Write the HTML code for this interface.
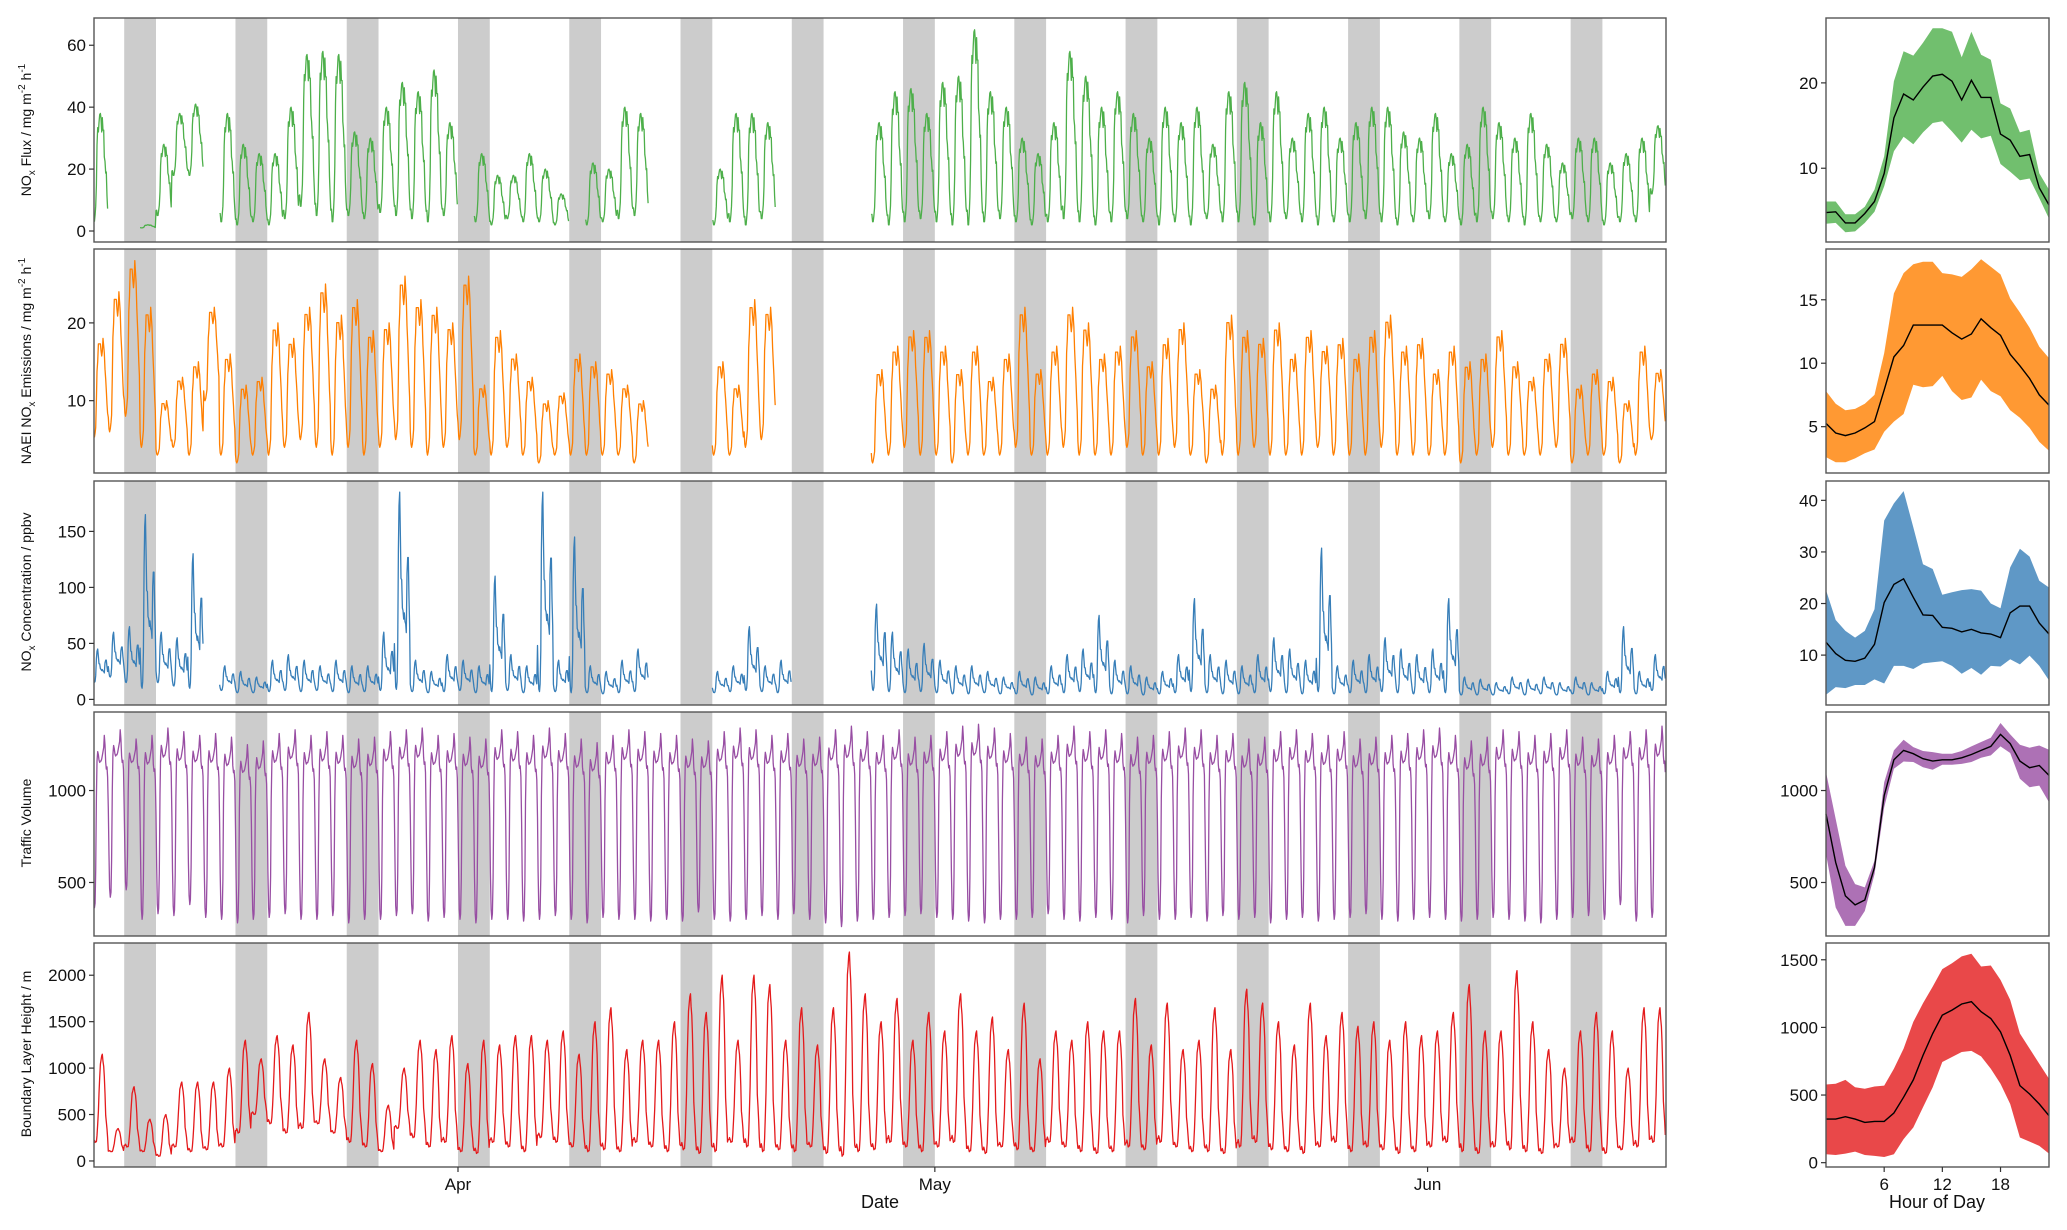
<!DOCTYPE html>
<html><head><meta charset="utf-8"><style>
html,body{margin:0;padding:0;background:#fff}
svg{display:block;font-family:"Liberation Sans",Arial,sans-serif}
</style></head><body>
<svg id="fig" width="2067" height="1230" viewBox="0 0 2067 1230" xmlns="http://www.w3.org/2000/svg">
<rect width="2067" height="1230" fill="#fff"/>
<g id="bands"></g>
<g id="series"></g>
<g id="frames"></g>
<g id="axes" font-size="17" fill="#111"></g>
<g font-size="14" fill="#111" text-anchor="middle">
<text transform="translate(31,130) rotate(-90)">NO<tspan font-size="10" dy="4">x</tspan><tspan dy="-4"> Flux / mg m</tspan><tspan font-size="10" dy="-6">-2</tspan><tspan dy="6"> h</tspan><tspan font-size="10" dy="-6">-1</tspan></text>
<text transform="translate(31,361) rotate(-90)">NAEI NO<tspan font-size="10" dy="4">x</tspan><tspan dy="-4"> Emissions / mg m</tspan><tspan font-size="10" dy="-6">-2</tspan><tspan dy="6"> h</tspan><tspan font-size="10" dy="-6">-1</tspan></text>
<text transform="translate(31,592) rotate(-90)">NO<tspan font-size="10" dy="4">x</tspan><tspan dy="-4"> Concentration / ppbv</tspan></text>
<text transform="translate(31,823) rotate(-90)">Traffic Volume</text>
<text transform="translate(31,1054) rotate(-90)">Boundary Layer Height / m</text>
</g>
<text x="880" y="1208" font-size="18" text-anchor="middle" fill="#111">Date</text>
<text x="1937" y="1208" font-size="18" text-anchor="middle" fill="#111">Hour of Day</text>
</svg>
<script>
// ---- data ----
const monthLabels = ["Apr","May","Jun"];
const monthDays = [22.9, 52.9, 83.9];
const hourTicks = [6,12,18];
const fluxMax = [38,null,null,2,28,38,41,null,38,28,25,25,40,57,58,57,32,30,40,48,45,52,35,null,25,18,18,25,20,12,null,22,20,40,38,null,null,null,null,20,38,38,35,null,null,null,null,null,null,35,45,46,38,48,50,65,45,40,30,25,35,58,50,40,45,38,30,40,35,40,28,45,48,35,45,30,38,40,30,35,40,40,32,30,38,25,28,40,35,30,38,28,22,30,30,22,25,30,34];
const fluxMin = [3,2,2,1,5,18,18,5,3,2,3,2,4,8,5,3,5,4,6,5,4,3,5,3,3,2,4,3,3,2,3,2,3,4,5,3,3,3,3,2,3,2,4,3,3,3,3,3,3,3,2,3,4,3,2,2,3,4,3,2,3,4,3,2,3,4,3,2,3,2,4,3,3,2,3,4,3,2,3,3,4,3,2,3,4,3,2,3,4,3,2,3,3,4,3,2,3,3,12];
const emisMax = [18,24,28,22,10,13,15,22,16,12,13,20,18,22,25,21,23,19,20,26,23,22,20,26,12,19,16,13,10,11,16,15,14,12,10,null,null,null,null,15,12,23,22,null,null,null,null,null,null,14,17,19,19,17,14,17,13,16,22,14,17,22,20,16,17,19,15,18,20,14,12,21,19,18,20,16,19,17,18,16,19,21,17,18,14,17,15,16,19,15,13,16,18,12,14,13,10,17,14];
const emisMin = [5,6,8,4,3,4,3,10,3,2,3,3,4,5,4,3,4,3,4,5,4,3,4,5,3,3,4,3,2,3,3,3,3,3,2,3,3,3,3,3,3,4,5,3,3,3,3,3,3,2,3,4,3,3,2,3,3,3,4,3,3,4,3,3,3,4,3,3,4,3,2,3,3,4,3,3,3,4,3,3,3,4,3,3,3,3,2,3,4,3,3,3,4,2,3,3,2,3,5];
const concMax = [45,60,65,165,60,55,130,null,30,25,20,35,40,35,30,35,30,30,60,185,35,25,40,35,30,110,40,30,185,35,145,30,25,35,45,null,null,null,null,25,30,65,30,35,null,null,null,null,null,85,60,45,50,35,30,30,25,20,25,20,30,40,45,75,35,30,20,25,40,90,40,35,30,40,55,45,35,135,30,35,40,55,45,40,45,90,20,18,15,20,18,20,15,20,15,25,65,25,40];
const concMin = [15,20,15,10,15,12,10,8,8,6,6,7,8,7,8,7,6,7,8,9,7,6,7,8,6,7,8,6,7,7,6,6,5,6,7,6,6,6,6,6,7,8,7,6,6,6,6,6,6,8,7,6,7,6,5,5,6,5,5,4,5,6,7,6,5,5,4,5,6,7,6,5,5,6,7,6,5,7,5,6,6,7,6,5,6,6,4,4,4,5,4,5,4,5,4,5,6,5,8];
const trafMax = [1300,1330,1280,1300,1340,1320,1300,1310,1290,1250,1270,1310,1330,1300,1320,1300,1280,1290,1320,1330,1340,1300,1310,1290,1280,1330,1320,1300,1340,1310,1280,1260,1300,1330,1320,1310,1300,1280,1270,1320,1340,1330,1300,1310,1280,1290,1330,1350,1320,1300,1330,1290,1300,1320,1350,1360,1340,1310,1290,1280,1300,1350,1320,1330,1310,1290,1300,1320,1340,1330,1300,1310,1280,1290,1320,1330,1310,1300,1320,1280,1290,1300,1310,1330,1340,1300,1270,1290,1330,1320,1300,1310,1330,1290,1280,1300,1320,1330,1350];
const trafMin = [360,420,460,300,330,320,380,310,300,280,300,310,330,300,300,320,280,300,300,320,330,290,310,300,280,300,300,290,300,320,300,280,310,300,300,290,300,290,340,300,290,300,320,300,330,300,280,260,290,300,310,320,330,310,300,290,280,300,300,310,330,300,290,310,300,280,320,300,300,310,290,320,300,310,280,300,310,290,300,310,330,300,290,300,310,300,290,300,310,300,290,280,300,310,320,300,380,290,310];
const blhMax = [1150,350,800,450,500,850,850,850,1000,1300,1100,1350,1250,1600,1100,900,1300,1050,600,1000,1300,1200,1350,1050,1300,1250,1350,1350,1300,1400,1150,1500,1650,1200,1300,1300,1500,1800,1600,2000,1300,2000,1900,1300,1650,1250,1650,2250,1800,1500,1750,1300,1600,1400,1800,1400,1550,1200,1700,1100,1400,1300,1500,1400,1400,1750,1250,1700,1200,1300,1650,1200,1850,1700,1500,1250,1700,1350,1600,1450,1500,1300,1500,1350,1400,1600,1900,1400,1400,2050,1500,1200,1000,1400,1600,1400,1000,1650,1650];
const blhMin = [200,100,150,100,50,150,100,120,150,300,500,400,300,350,400,300,200,150,100,350,250,150,200,100,80,200,150,100,250,200,150,100,120,100,200,150,100,120,80,100,200,150,100,120,100,150,80,50,100,120,200,150,100,150,200,100,80,150,120,100,200,150,100,80,100,150,120,200,150,100,100,80,150,200,120,100,80,150,200,100,150,120,80,100,150,200,100,80,150,120,100,80,150,200,100,80,120,150,200];
// hourly climatology (hour 0..23): mean, lower, upper
const fluxMean=[4.8,4.9,3.6,3.6,4.7,6.1,9.4,15.9,18.7,18.0,19.5,20.8,21.0,20.2,18.0,20.3,18.3,18.3,14.0,13.3,11.4,11.6,7.7,5.7];
const fluxLo=[3.5,3.6,2.5,2.6,3.6,4.9,7.9,12.0,13.7,12.8,14.2,15.3,15.5,14.3,13.0,14.5,13.5,13.8,10.5,9.6,8.6,8.8,6.5,4.1];
const fluxHi=[6.1,6.1,4.6,4.6,5.5,7.5,11.4,20.2,23.7,23.2,24.7,26.4,26.4,26.0,23.0,26.0,23.3,22.7,17.6,17.0,14.2,14.5,9.4,7.5];
const emisMean=[5.26,4.5,4.3,4.5,4.9,5.4,7.9,10.5,11.4,13.0,13.0,13.0,13.0,12.4,11.9,12.3,13.5,12.8,12.2,10.7,9.8,8.8,7.5,6.7];
const emisLo=[2.6,2.2,2.2,2.5,2.9,3.2,4.6,5.4,6.0,8.3,8.1,8.2,9.0,7.8,7.1,7.3,8.7,7.8,7.4,6.3,5.7,4.9,3.8,3.1];
const emisHi=[7.8,6.8,6.3,6.4,6.8,7.5,10.8,15.5,17.1,17.8,18.0,18.0,17.1,17.0,16.8,17.4,18.2,17.6,17.0,15.1,14.0,12.8,11.3,10.4];
const concMean=[12.5,10.3,9.0,8.8,9.4,12.1,20.2,23.7,24.8,21.2,17.8,17.7,15.4,15.2,14.5,15.0,14.3,14.1,13.4,18.2,19.5,19.5,16.2,14.1];
const concLo=[2.3,3.8,3.6,4.2,4.2,5.3,4.5,7.9,7.9,7.3,8.4,8.6,8.8,7.9,6.4,7.5,6.2,7.9,7.8,9.2,8.2,9.9,7.9,5.1];
const concHi=[22.6,16.8,14.7,13.4,14.7,18.9,36.1,39.4,41.8,34.8,27.6,26.7,21.7,22.2,22.6,22.8,22.5,20.0,19.1,27.0,30.6,29.1,24.4,23.1];
const trafMean=[873,609,427,378,405,582,973,1167,1218,1200,1173,1160,1167,1167,1178,1196,1218,1240,1305,1255,1160,1124,1136,1082];
const trafLo=[655,364,264,264,345,545,909,1118,1158,1155,1127,1113,1140,1140,1145,1155,1178,1191,1240,1204,1064,1018,1027,936];
const trafHi=[1100,845,591,491,473,618,1045,1218,1276,1236,1215,1209,1200,1200,1215,1240,1264,1287,1367,1305,1249,1233,1245,1222];
const blhMean=[322,322,340,322,298,305,305,367,484,612,793,955,1091,1128,1173,1190,1116,1066,967,793,570,508,434,347];
const blhLo=[62,57,67,82,57,50,42,62,174,260,409,558,744,781,818,826,786,694,583,434,186,156,124,67];
const blhHi=[578,583,612,558,546,563,570,694,843,1041,1178,1302,1431,1475,1525,1545,1450,1458,1351,1203,955,843,731,620];
const leftTicks=[[0,20,40,60],[10,20],[0,50,100,150],[500,1000],[0,500,1000,1500,2000]];
const rightTicks=[[10,20],[5,10,15],[10,20,30,40],[500,1000],[0,500,1000,1500]];

// ---- layout ----
const NS="http://www.w3.org/2000/svg";
const tops=[18,249,481,712,943], PH=224;
const L0=94,L1=1666,R0=1826,R1=2049, DAYS=98.9;
const leftDom=[[-3.55,68.8],[0.7,29.5],[-5,195],[209,1427],[-65,2347]];
const rightDom=[[1.36,27.6],[1.35,19],[0.33,43.75],[209,1427],[-32,1624]];
const colors=["#4daf4a","#ff7f00","#377eb8","#984ea3","#e41a1c"];
const names=["flux","emissions","concentration","traffic","boundary-layer"];
const maxes=[fluxMax,emisMax,concMax,trafMax,blhMax], mins=[fluxMin,emisMin,concMin,trafMin,blhMin];
const means=[fluxMean,emisMean,concMean,trafMean,blhMean], los=[fluxLo,emisLo,concLo,trafLo,blhLo], his=[fluxHi,emisHi,concHi,trafHi,blhHi];
const xDay=t=>L0+(L1-L0)*t/DAYS;
const xHour=h=>R0+(R1-R0)*h/23;
const yV=(p,v,dom)=>tops[p]+PH-(v-dom[0])/(dom[1]-dom[0])*PH;
function mk(tag,attrs,parent){const e=document.createElementNS(NS,tag);for(const k in attrs)e.setAttribute(k,attrs[k]);parent.appendChild(e);return e;}
const bands=document.getElementById('bands'), series=document.getElementById('series'), frames=document.getElementById('frames'), axes=document.getElementById('axes');

for(let p=0;p<5;p++){
  // weekend bands
  for(let k=0;k<14;k++){
    const t0=1.9+7*k, t1=Math.min(t0+2,DAYS);
    const r=mk('rect',{x:xDay(t0),y:tops[p],width:xDay(t1)-xDay(t0),height:PH,fill:'#cccccc'},bands);
    
    
  }
  // time series
  const mx=maxes[p], mn=mins[p], prof=means[p];
  const pmin=Math.min(...prof), pmax=Math.max(...prof);
  let d='', pen=false;
  for(let i=0;i<mx.length;i++){
    if(mx[i]==null){pen=false;continue;}
    for(let h=0;h<24;h++){
      const t=i-0.1+h/24; if(t<0||t>DAYS) continue;
      const v=mn[i]+(mx[i]-mn[i])*(prof[h]-pmin)/(pmax-pmin);
      d+=(pen?'L':'M')+xDay(t).toFixed(1)+','+yV(p,v,leftDom[p]).toFixed(1);
      pen=true;
    }
  }
  const line=mk('path',{d:d,fill:'none',stroke:colors[p],'stroke-width':1.3,'stroke-linejoin':'round'},series);
  
  
  // ribbon + mean
  const lo=los[p], hi=his[p], me=means[p];
  let rd='';
  for(let h=0;h<24;h++) rd+=(h?'L':'M')+xHour(h).toFixed(1)+','+yV(p,hi[h],rightDom[p]).toFixed(1);
  for(let h=23;h>=0;h--) rd+='L'+xHour(h).toFixed(1)+','+yV(p,lo[h],rightDom[p]).toFixed(1);
  const rib=mk('path',{d:rd+'Z',fill:colors[p],'fill-opacity':0.8},series);
  
  
  let md='';
  for(let h=0;h<24;h++) md+=(h?'L':'M')+xHour(h).toFixed(1)+','+yV(p,me[h],rightDom[p]).toFixed(1);
  const ml=mk('path',{d:md,fill:'none',stroke:'#000','stroke-width':1.4},series);
  
  
  // frames
  const f1=mk('rect',{x:L0,y:tops[p],width:L1-L0,height:PH,fill:'none',stroke:'#555','stroke-width':1.4},frames);
  
  
  const f2=mk('rect',{x:R0,y:tops[p],width:R1-R0,height:PH,fill:'none',stroke:'#555','stroke-width':1.4},frames);
  
  
  // y ticks
  leftTicks[p].forEach(v=>{
    const y=yV(p,v,leftDom[p]);
    const tk=mk('line',{x1:L0-5,x2:L0,y1:y,y2:y,stroke:'#333','stroke-width':1.2},axes);
    
    
    const tx=mk('text',{x:L0-8,y:y+6,'text-anchor':'end'},axes);
    tx.textContent=v;
    
    
  });
  rightTicks[p].forEach(v=>{
    const y=yV(p,v,rightDom[p]);
    const tk=mk('line',{x1:R0-5,x2:R0,y1:y,y2:y,stroke:'#333','stroke-width':1.2},axes);
    
    
    const tx=mk('text',{x:R0-8,y:y+6,'text-anchor':'end'},axes);
    tx.textContent=v;
    
    
  });
}
const bot=tops[4]+PH;
monthLabels.forEach((m,i)=>{
  const x=xDay(monthDays[i]);
  const tk=mk('line',{x1:x,x2:x,y1:bot,y2:bot+5,stroke:'#333','stroke-width':1.2},axes);
  
  
  const tx=mk('text',{x:x,y:bot+23,'text-anchor':'middle'},axes);
  tx.textContent=m;
  
  
});
hourTicks.forEach(h=>{
  const x=xHour(h);
  const tk=mk('line',{x1:x,x2:x,y1:bot,y2:bot+5,stroke:'#333','stroke-width':1.2},axes);
  
  
  const tx=mk('text',{x:x,y:bot+23,'text-anchor':'middle'},axes);
  tx.textContent=h;
  
  
});
</script>
</body></html>
